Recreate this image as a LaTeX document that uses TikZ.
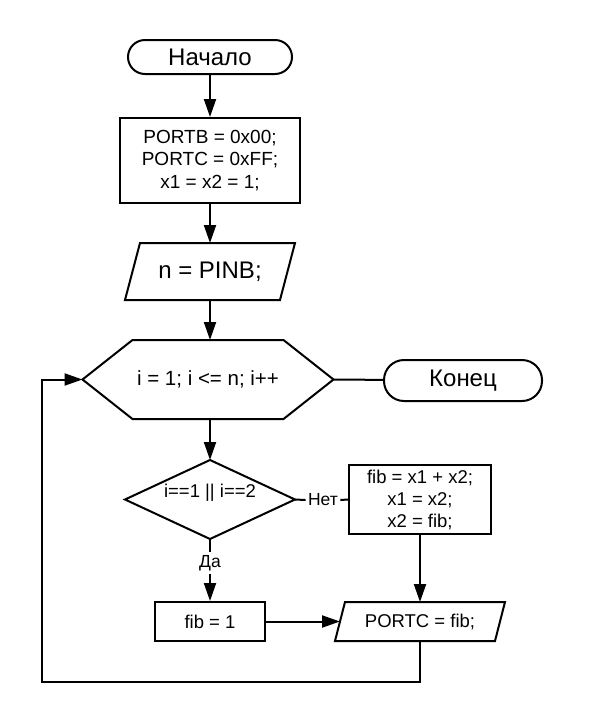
\documentclass[tikz,border=0pt]{standalone}
\usepackage{fontspec}
\setmainfont{Liberation Sans}
\usetikzlibrary{arrows.meta,calc}
\begin{document}
\begin{tikzpicture}[x=1pt,y=-1pt, line width=2pt,
  sm/.style={font=\fontsize{18.5}{22}\selectfont},
  bg/.style={font=\fontsize{24}{27}\selectfont},
  term/.style={draw, inner sep=0pt, bg},
  box/.style={draw, inner sep=0pt, align=center, sm},
  ghost/.style={inner sep=0pt, outer sep=0pt},
  lab/.style={inner sep=1.5pt, font=\fontsize{17.5}{20}\selectfont},
  arr/.style={-{Triangle[length=18pt 0 0,width=12pt 0 0]}}]
\useasboundingbox (0,0) rectangle (590,724);

% nodes
\node[term, rounded corners=17pt, minimum width=164pt, minimum height=34pt] (start) at (210,57) {Начало};
\node[box, minimum width=180pt, minimum height=85pt, font=\fontsize{19}{22.5}\selectfont] (init) at (210,160.5) {PORTB = 0x00;\\PORTC = 0xFF;\\x1 = x2 = 1;};
\node[ghost, minimum width=155pt, minimum height=57pt, bg] (pinb) at (210,271.5) {n = PINB;};
\node[ghost, minimum width=251pt, minimum height=79pt, font=\fontsize{20.5}{24}\selectfont] (loop) at (208,379.5) {i = 1; i <= n; i++};
\node[term, rounded corners=20pt, minimum width=158pt, minimum height=41pt] (fin) at (463,380.5) {Конец};
\node[ghost, minimum width=170pt, minimum height=79pt] (cond) at (210,499.5) {};
\node[ghost, sm] (condtxt) at (210,493) {i==1 || i==2};
\node[lab] (no) at (323,500) {Нет};
\node[box, minimum width=142pt, minimum height=69pt, font=\fontsize{18.5}{22}\selectfont] (calc) at (420,499.5) {fib = x1 + x2;\\x1 = x2;\\x2 = fib;};
\node[lab, inner sep=0pt, minimum height=20pt] (yes) at (210,563) {Да};
\node[box, minimum width=110pt, minimum height=39pt] (one) at (210,621.5) {fib = 1};
\node[ghost, minimum width=160pt, minimum height=39pt, sm] (out) at (420,621.5) {PORTC = fib;};
\coordinate (c1) at (420,682);
\coordinate (c2) at (42,682);
\coordinate (c3) at (42,379.5);

% outlines
\draw ($(pinb.north west)+(7.5,0)$) -- ($(pinb.north east)+(7.5,0)$) -- ($(pinb.south east)+(-7.5,0)$) -- ($(pinb.south west)+(-7.5,0)$) -- cycle;
\draw (loop.west) -- ($(loop.north west)+(50,0)$) -- ($(loop.north east)+(-50,0)$) -- (loop.east) -- ($(loop.south east)+(-50,0)$) -- ($(loop.south west)+(50,0)$) -- cycle;
\draw (cond.west) -- (cond.north) -- (cond.east) -- (cond.south) -- cycle;
\draw ($(out.north west)+(5,0)$) -- ($(out.north east)+(5,0)$) -- ($(out.south east)+(-5,0)$) -- ($(out.south west)+(-5,0)$) -- cycle;

% connectors
\draw[arr] (start) -- (init);
\draw[arr] (init) -- (pinb.north);
\draw[arr] (pinb.south) -- (loop.north -| pinb.south);
\draw (loop.east) -- (fin);
\draw[arr] (loop.south -| cond.north) -- (cond.north);
\draw (cond.east) -- (no.west);
\draw (no.east) -- (calc.west);
\draw (cond.south) -- (yes.north);
\draw[arr] (yes.south) -- (one);
\draw[arr] (calc) -- (out.north);
\draw[arr] (one) -- (out.west);
\draw[arr] (out.south) -- (c1) -- (c2) -- (c3) -- (loop.west);
\end{tikzpicture}
\end{document}
